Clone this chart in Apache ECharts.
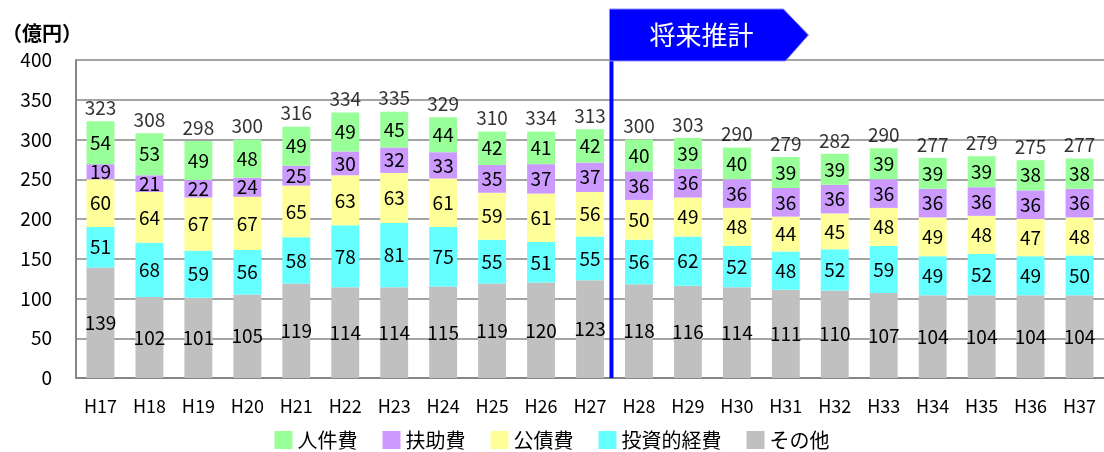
<!DOCTYPE html>
<html><head><meta charset="utf-8">
<script src="https://cdn.jsdelivr.net/npm/echarts@6/dist/echarts.min.js"></script>
<style>html,body{margin:0;padding:0;background:#fff}#c{width:1104px;height:452px}</style>
</head><body><div id="c"></div>
<script>
const categories = ['H17','H18','H19','H20','H21','H22','H23','H24','H25','H26','H27','H28','H29','H30','H31','H32','H33','H34','H35','H36','H37'];
const other    = [139,102,101,105,119,114,114,115,119,120,123,118,116,114,111,110,107,104,104,104,104];
const invest   = [51,68,59,56,58,78,81,75,55,51,55,56,62,52,48,52,59,49,52,49,50];
const debt     = [60,64,67,67,65,63,63,61,59,61,56,50,49,48,44,45,48,49,48,47,48];
const welfare  = [19,21,22,24,25,30,32,33,35,37,37,36,36,36,36,36,36,36,36,36,36];
const personnel= [54,53,49,48,49,49,45,44,42,41,42,40,39,40,39,39,39,39,39,38,38];
const totals   = [323,308,298,300,316,334,335,329,310,334,313,300,303,290,279,282,290,277,279,275,277];
const yTicks = {min:0, max:400, interval:50};
const forecastStart = 'H28';
const FONT = '"Noto Sans CJK JP", "Noto Sans", sans-serif';

const chart = echarts.init(document.getElementById('c'));
const segLabel = {show:true, position:'inside', color:'#000', fontSize:19, fontFamily:FONT};
function bar(name, data, color){
  return {name, type:'bar', stack:'s', data, barWidth:'57%', itemStyle:{color}, label:segLabel, emphasis:{disabled:true}};
}
const stackTop = categories.map((c,i)=>other[i]+invest[i]+debt[i]+welfare[i]+personnel[i]);
chart.setOption({
  animation:false,
  textStyle:{fontFamily:FONT},
  grid:{left:76, right:-3, top:60, bottom:74, containLabel:false},
  legend:{
    top:430, left:'center', padding:0, itemWidth:18, itemHeight:18, itemGap:25,
    icon:'rect',
    textStyle:{fontSize:20, color:'#000', fontFamily:FONT},
    data:['人件費','扶助費','公債費','投資的経費','その他']
  },
  xAxis:{type:'category', data:categories,
    axisLine:{lineStyle:{color:'#868686', width:2}},
    axisTick:{show:false},
    axisLabel:{color:'#000', fontSize:18, margin:19, fontFamily:FONT}},
  yAxis:{type:'value', min:yTicks.min, max:yTicks.max, interval:yTicks.interval,
    axisLine:{show:true, lineStyle:{color:'#868686', width:2}},
    splitLine:{lineStyle:{color:'#868686', width:1.5}},
    axisLabel:{color:'#000', fontSize:19, margin:24, fontFamily:FONT}},
  series:[
    bar('その他', other, '#C0C0C0'),
    bar('投資的経費', invest, '#66FFFF'),
    bar('公債費', debt, '#FFFF99'),
    bar('扶助費', welfare, '#CC99FF'),
    bar('人件費', personnel, '#99FF99'),
    {name:'total', type:'scatter', data:stackTop, symbolSize:0, silent:true,
     label:{show:true, position:'top', distance:4, color:'#000', fontSize:19, fontFamily:FONT,
       formatter:p=>String(totals[p.dataIndex])}}
  ]
});

function drawOverlay(){
  const i = categories.indexOf(forecastStart);
  const xa = chart.convertToPixel({xAxisIndex:0}, categories[i-1]);
  const xb = chart.convertToPixel({xAxisIndex:0}, categories[i]);
  const lx = (xa+xb)/2 - 3;
  const yTop = chart.convertToPixel({yAxisIndex:0}, yTicks.max);
  const yBot = chart.convertToPixel({yAxisIndex:0}, 0);
  chart.setOption({graphic:[
    {type:'rect', shape:{x:lx-2, y:yTop, width:4, height:yBot-yTop}, style:{fill:'#0000FF'}, z:100},
    {type:'polygon', shape:{points:[[lx-2,yTop-51],[lx+172,yTop-51],[lx+197,yTop-25],[lx+174,yTop+1],[lx-2,yTop+1]]},
      style:{fill:'#0000FF', stroke:'#8c8cff', lineWidth:1}, z:100},
    {type:'text', x:lx+90, y:yTop-25, style:{text:'将来推計', fill:'#fff', fontSize:26, fontFamily:FONT, align:'center', verticalAlign:'middle'}, z:101},
    {type:'text', left:2, top:23, style:{text:'（億円）', fill:'#000', fontSize:20, fontWeight:'bold', fontFamily:FONT}, z:101}
  ]});
}
drawOverlay();
</script></body></html>
